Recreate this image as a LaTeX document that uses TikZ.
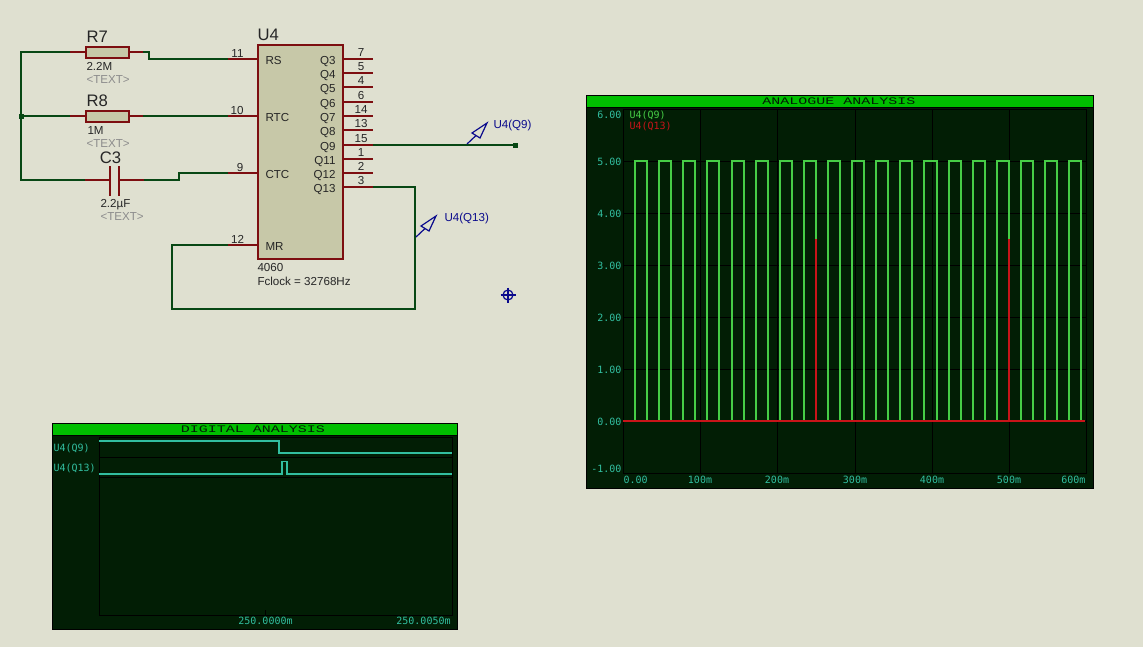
\documentclass[tikz,border=0pt]{standalone}
\usepackage{fontspec}
\setmainfont{Liberation Sans}
\newfontfamily\lcdfont{DejaVu Sans Mono}
\newfontfamily\lcdwide[FakeStretch=1.5]{Liberation Mono}
\definecolor{sheet}{RGB}{223,224,208}
\definecolor{wirecol}{RGB}{8,72,20}
\definecolor{pincol}{RGB}{125,14,16}
\definecolor{bodycol}{RGB}{199,200,168}
\definecolor{probecol}{RGB}{10,10,140}
\definecolor{graphbg}{RGB}{2,30,5}
\definecolor{titlebar}{RGB}{0,190,0}
\definecolor{lcdteal}{RGB}{50,190,160}
\definecolor{tracecol}{RGB}{70,205,70}
\definecolor{redtrace}{RGB}{200,20,25}
\tikzset{every picture/.style={line width=0.75pt},
  wireline/.style={wirecol,line width=1.5pt,line join=miter},
  pinline/.style={pincol,line width=1.5pt},
  partbox/.style={draw=pincol,fill=bodycol,line width=1.5pt,inner sep=0pt},
  biglbl/.style={inner sep=0pt,text depth=0pt,text height=9pt,text=black!85,font=\fontsize{12.5}{14}\selectfont},
  smalllbl/.style={inner sep=0pt,text depth=0pt,text height=6.2pt,text=black!85,font=\fontsize{8.7}{10}\selectfont},
  greylbl/.style={smalllbl,text=black!45},
  probelbl/.style={smalllbl,text=probecol},
  probeline/.style={probecol,line width=0.9pt},
  lcdlbl/.style={inner sep=0pt,text depth=0pt,text height=5.3pt,text=lcdteal,font=\lcdfont\fontsize{7.5}{9}\selectfont},
  lcdtitle/.style={inner sep=0pt,text=graphbg,font=\lcdwide\fontsize{7.5}{9}\selectfont},
  panel/.style={draw=black,fill=graphbg,line width=0.7pt},
  bar/.style={draw=black,fill=titlebar,line width=0.7pt},
  gridline/.style={black,line width=0.6pt},
  traceline/.style={line width=1pt}}

\begin{document}
\begin{tikzpicture}[x=0.75pt,y=0.75pt,yscale=-1,xscale=1]
\useasboundingbox (0,0) rectangle (1143,647);
\fill[sheet] (0,0) rectangle (1143,647);

% U4 body and pins
\node (U4) [partbox,anchor=north west,minimum width=64pt,minimum height=160.5pt] at (257,44) {};
\node (lblU4) [biglbl,anchor=west] at (257,34) {U4};
\node (lblType) [smalllbl,anchor=west] at (257,267) {4060};
\node (lblClock) [smalllbl,anchor=west] at (257,281) {Fclock = 32768Hz};
\foreach \y/\num/\name in {59/7/Q3,73/5/Q4,87/4/Q5,102/6/Q6,116/14/Q7,130/13/Q8,145/15/Q9,159/1/Q11,173/2/Q12,187/3/Q13}{
  \coordinate (in\name) at (343,\y);
  \coordinate (pin\name) at (373,\y);
  \draw[pinline] (in\name) -- (pin\name);
  \node (num\name) [smalllbl] at (361,\y-7) {\num};
  \node (name\name) [smalllbl,anchor=east] at (336,\y+1) {\name};
}
\foreach \y/\ny/\nx/\num/\name in {59/53/237.5/11/RS,116/110/237/10/RTC,173/167/240/9/CTC,245/239/237.5/12/MR}{
  \coordinate (in\name) at (257,\y);
  \coordinate (pin\name) at (228,\y);
  \draw[pinline] (in\name) -- (pin\name);
  \node (num\name) [smalllbl] at (\nx,\ny) {\num};
  \node (name\name) [smalllbl,anchor=west] at (265,\y+1) {\name};
}

% R7
\node (R7) [partbox,minimum width=32.25pt,minimum height=8.25pt] at (107.5,52) {};
\coordinate (r7l) at (70,52);
\coordinate (r7r) at (143,52);
\draw[pinline] (r7l) -- (R7.west);
\draw[pinline] (R7.east) -- (r7r);
\node (lblR7) [biglbl,anchor=west] at (86,36) {R7};
\node (valR7) [smalllbl,anchor=west] at (86,66) {2.2M};
\node (txtR7) [greylbl,anchor=west] at (86,79) {<TEXT>};

% R8
\node (R8) [partbox,minimum width=32.25pt,minimum height=8.25pt] at (107.5,116) {};
\coordinate (r8l) at (70,116);
\coordinate (r8r) at (143,116);
\draw[pinline] (r8l) -- (R8.west);
\draw[pinline] (R8.east) -- (r8r);
\node (lblR8) [biglbl,anchor=west] at (86,100) {R8};
\node (valR8) [smalllbl,anchor=west] at (87,130) {1M};
\node (txtR8) [greylbl,anchor=west] at (86,143) {<TEXT>};

% C3
\coordinate (c3l) at (85,180);
\coordinate (c3a) at (110,180);
\coordinate (c3b) at (119,180);
\coordinate (c3r) at (144,180);
\draw[pinline] (c3l) -- (c3a);
\draw[pinline] (c3b) -- (c3r);
\draw[pinline] (110,166) -- (110,196);
\draw[pinline] (119,166) -- (119,196);
\node (lblC3) [biglbl] at (110.5,157) {C3};
\node (valC3) [smalllbl,anchor=west] at (100,203) {2.2µF};
\node (txtC3) [greylbl,anchor=west] at (100,216) {<TEXT>};

% wires
\coordinate (busT) at (21,52);
\coordinate (busM) at (21,116);
\coordinate (busB) at (21,180);
\draw[wireline] (r7l) -- (busT) -- (busB) -- (c3l);
\draw[wireline] (busM) -- (r8l);
\draw[wireline] (r8r) -- (pinRTC);
\draw[wireline] (r7r) -| (149,59) -- (pinRS);
\draw[wireline] (c3r) -| (179,173) -- (pinCTC);
\coordinate (endQ9) at (515,145);
\draw[wireline] (pinQ9) -- (endQ9);
\draw[wireline] (pinQ13) -| (415,309) -| (172,245) -- (pinMR);
\fill[wirecol] (18.5,113.5) rectangle (23.5,118.5);
\fill[wirecol] (513,143) rectangle (517.5,147.5);

% probes
\foreach \tx/\ty/\lx/\ly/\name in {467/144/493/124/U4(Q9),416/237/444/217/U4(Q13)}{
  \draw[probeline] (\tx,\ty) -- ++(9,-8.5);
  \draw[probeline] (\tx+5,\ty-11) -- (\tx+20,\ty-21) -- (\tx+13,\ty-6) -- cycle;
  \node[probelbl,anchor=west] at (\lx,\ly) {\name};
}
\draw[probeline] (508,295) circle (5);
\draw[probeline] (500.5,295) -- (515.5,295) (508,287.5) -- (508,302.5);

% digital graph
\draw[panel] (52,423) rectangle (457,629);
\draw[bar] (52,423) rectangle (457,435);
\node (titleDig) [lcdtitle] at (253,429) {DIGITAL ANALYSIS};
\draw[gridline] (99,437) rectangle (452,615);
\draw[gridline] (99,457) -- (452,457) (99,477) -- (452,477) (265,610) -- (265,615);
\draw[lcdteal,traceline] (99,441) -- (279,441) -- (279,453) -- (452,453);
\draw[lcdteal,traceline] (99,474) -- (282,474) -- (282,461.5) -- (287,461.5) -- (287,474) -- (452,474);
\node (digQ9) [lcdlbl,anchor=west] at (53,447.5) {U4(Q9)};
\node (digQ13) [lcdlbl,anchor=west] at (53,467.5) {U4(Q13)};
\node (digT1) [lcdlbl] at (265.5,621) {250.0000m};
\node (digT2) [lcdlbl] at (423.5,621) {250.0050m};

% analogue graph
\draw[panel] (586,95) rectangle (1093,488);
\draw[bar] (586,95) rectangle (1093,107);
\node (titleAna) [lcdtitle] at (839,101) {ANALOGUE ANALYSIS};
\draw[gridline] (623,109) rectangle (1086,473);
\foreach \y in {161,213,265,317,369,421}{
  \draw[gridline] (623,\y) -- (1086,\y);
}
\foreach \x in {700,777,855,932,1009}{
  \draw[gridline] (\x,109) -- (\x,473);
}
\foreach \k in {0,...,18}{
  \pgfmathsetmacro{\xa}{round(623+12.06*(2*\k+1))}
  \pgfmathsetmacro{\xb}{round(623+12.06*(2*\k+2))}
  \draw[tracecol,traceline] (\xa,421) -- (\xa,161) -- (\xb,161) -- (\xb,421);
}
\draw[redtrace,traceline] (623,421) -- (1085,421);
\draw[redtrace,traceline] (816,421) -- (816,239);
\draw[redtrace,traceline] (1009,421) -- (1009,239);
\foreach \y/\v in {114.5/6.00,161.5/5.00,213.5/4.00,265.5/3.00,317.5/2.00,369.5/1.00,421.5/0.00,468.5/-1.00}{
  \node[lcdlbl,anchor=east] at (622,\y) {\v};
}
\node (anaT0) [lcdlbl,anchor=west] at (623,479.5) {0.00};
\foreach \x/\v in {700/100m,777/200m,855/300m,932/400m,1009/500m}{
  \node[lcdlbl] at (\x,479.5) {\v};
}
\node (anaT6) [lcdlbl,anchor=east] at (1086,479.5) {600m};
\node (anaQ9) [lcdlbl,anchor=west,text=tracecol] at (629,114.5) {U4(Q9)};
\node (anaQ13) [lcdlbl,anchor=west,text=redtrace] at (629,125.5) {U4(Q13)};

\end{tikzpicture}
\end{document}
